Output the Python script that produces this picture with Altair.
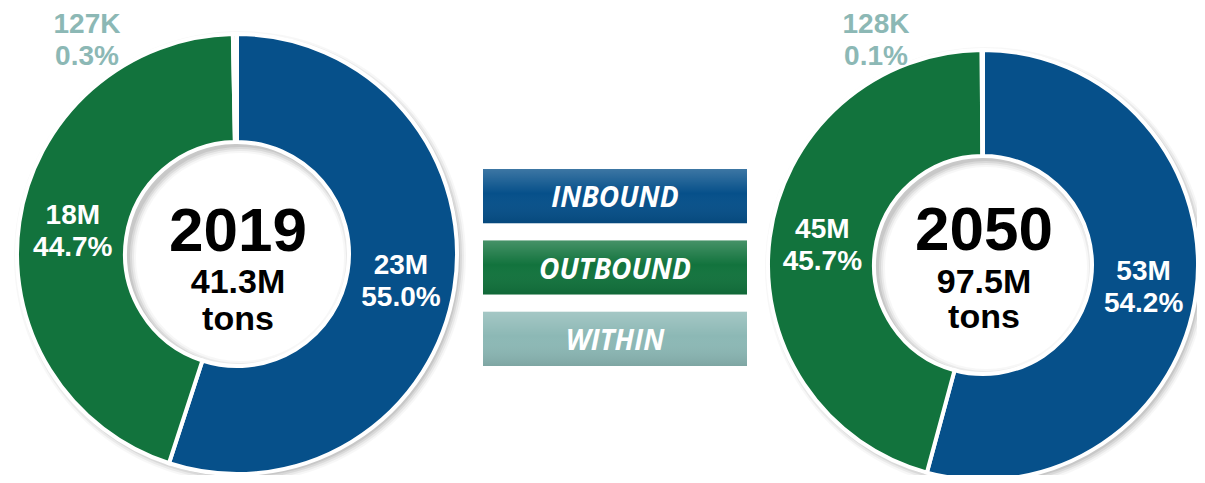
import math
import altair as alt
import pandas as pd

# ---------------- data ----------------
categories = ["INBOUND", "OUTBOUND", "WITHIN"]
slice_colors = ["#06508a", "#12733d", "#8cb8b5"]
pct_2019 = [55.0, 44.7, 0.3]
pct_2050 = [54.2, 45.7, 0.1]
tons_2019 = ["23M", "18M", "127K"]
tons_2050 = ["53M", "45M", "128K"]
years = ["2019", "2050"]
totals = ["41.3M", "97.5M"]
unit = "tons"


def donut_frame(pcts, tons):
    return pd.DataFrame({
        "cat": categories,
        "pct": pcts,
        "ord": list(range(len(categories))),
        "label": [f"{t}\n{p:.1f}%" for t, p in zip(tons, pcts)],
    })


df_2019 = donut_frame(pct_2019, tons_2019)
df_2050 = donut_frame(pct_2050, tons_2050)
legend_df = pd.DataFrame({"cat": categories})

# ---------------- layout ----------------
W, H = 1189, 467
color_scale = alt.Scale(domain=categories, range=slice_colors)
theta_enc = alt.Theta("pct:Q", stack=True, scale=alt.Scale(domain=[0, 100]))
LABEL_FONT = "Liberation Sans"


def donut(df, year, total, cx, cy, R, r, within_xy, text_y):
    layers = []
    # soft drop shadow
    one = pd.DataFrame({"k": [0]})
    for k, op in [(6, 0.03), (4, 0.05), (2, 0.07), (0, 0.08)]:
        layers.append(
            alt.Chart(one).mark_arc(
                radius=R + k, innerRadius=max(r - k - 2, 0), theta=0, theta2=2 * math.pi,
                color="#000000", opacity=op,
            ).encode(x=alt.value(cx + 3), y=alt.value(cy + 3))
        )
    ring = alt.Chart(df).mark_arc(
        radius=R, innerRadius=r, stroke="white", strokeWidth=4
    ).encode(
        theta=theta_enc,
        order=alt.Order("ord:Q"),
        color=alt.Color("cat:N", scale=color_scale, legend=None),
        x=alt.value(cx), y=alt.value(cy),
    )
    layers.append(ring)
    labels = alt.Chart(df).transform_filter(alt.datum.ord < 2).mark_text(
        radius=(R + r) / 2, font=LABEL_FONT, fontWeight="bold", fontSize=28,
        color="white", lineBreak="\n", lineHeight=32, align="center", baseline="middle",
        dy=-14,
    ).encode(
        theta=theta_enc, order=alt.Order("ord:Q"), text="label:N",
        x=alt.value(cx), y=alt.value(cy),
    )
    layers.append(labels)
    within = alt.Chart(df).transform_filter(alt.datum.ord == 2).mark_text(
        font=LABEL_FONT, fontWeight="bold", fontSize=28, color="#8cb8b5",
        lineBreak="\n", lineHeight=32, align="center", baseline="alphabetic",
    ).encode(text="label:N", x=alt.value(within_xy[0]), y=alt.value(within_xy[1]))
    layers.append(within)
    cdf = pd.DataFrame({"year": [year], "total": [total], "unit": [unit]})
    for field, size, yy in [("year", 62, text_y[0]), ("total", 34, text_y[1]), ("unit", 34, text_y[2])]:
        layers.append(alt.Chart(cdf).mark_text(
            font=LABEL_FONT, fontWeight="bold", fontSize=size, color="black",
            align="center", baseline="alphabetic",
        ).encode(text=f"{field}:N", x=alt.value(cx + 1), y=alt.value(yy)))
    return layers


left = donut(df_2019, years[0], totals[0], 229, 246, 220, 112, (79, 25), (243, 285, 322))
right = donut(df_2050, years[1], totals[1], 975, 257, 215, 109, (868, 25), (242, 285, 320))

y_leg = alt.Y("cat:N", scale=alt.Scale(domain=categories, range=[161, 358],
                                        paddingInner=0.24, paddingOuter=0), axis=None)
leg_box = alt.Chart(legend_df).mark_rect().encode(
    y=y_leg, x=alt.value(475), x2=alt.value(739),
    color=alt.Color("cat:N", scale=color_scale, legend=None),
)
leg_shade = alt.Chart(legend_df).mark_rect(
    fill=alt.LinearGradient(
        gradient="linear", x1=0, y1=0, x2=0, y2=1,
        stops=[
            alt.GradientStop(color="rgba(255,255,255,0.22)", offset=0),
            alt.GradientStop(color="rgba(255,255,255,0)", offset=0.45),
            alt.GradientStop(color="rgba(0,0,0,0.10)", offset=1),
        ],
    )
).encode(y=y_leg, x=alt.value(475), x2=alt.value(739))
leg_text = alt.Chart(legend_df).mark_text(
    font="Open Sans", fontStyle="italic", fontWeight="bold", fontSize=28,
    color="white", align="center", baseline="middle", dy=3,
).encode(y=y_leg, x=alt.value(607), text="cat:N")

chart = alt.layer(*left, *right, leg_box, leg_shade, leg_text).properties(
    width=W, height=H, padding=0, autosize="none", background="white",
).configure_view(stroke=None)

chart.save("out.html", embed_options={"renderer": "svg", "actions": False})
